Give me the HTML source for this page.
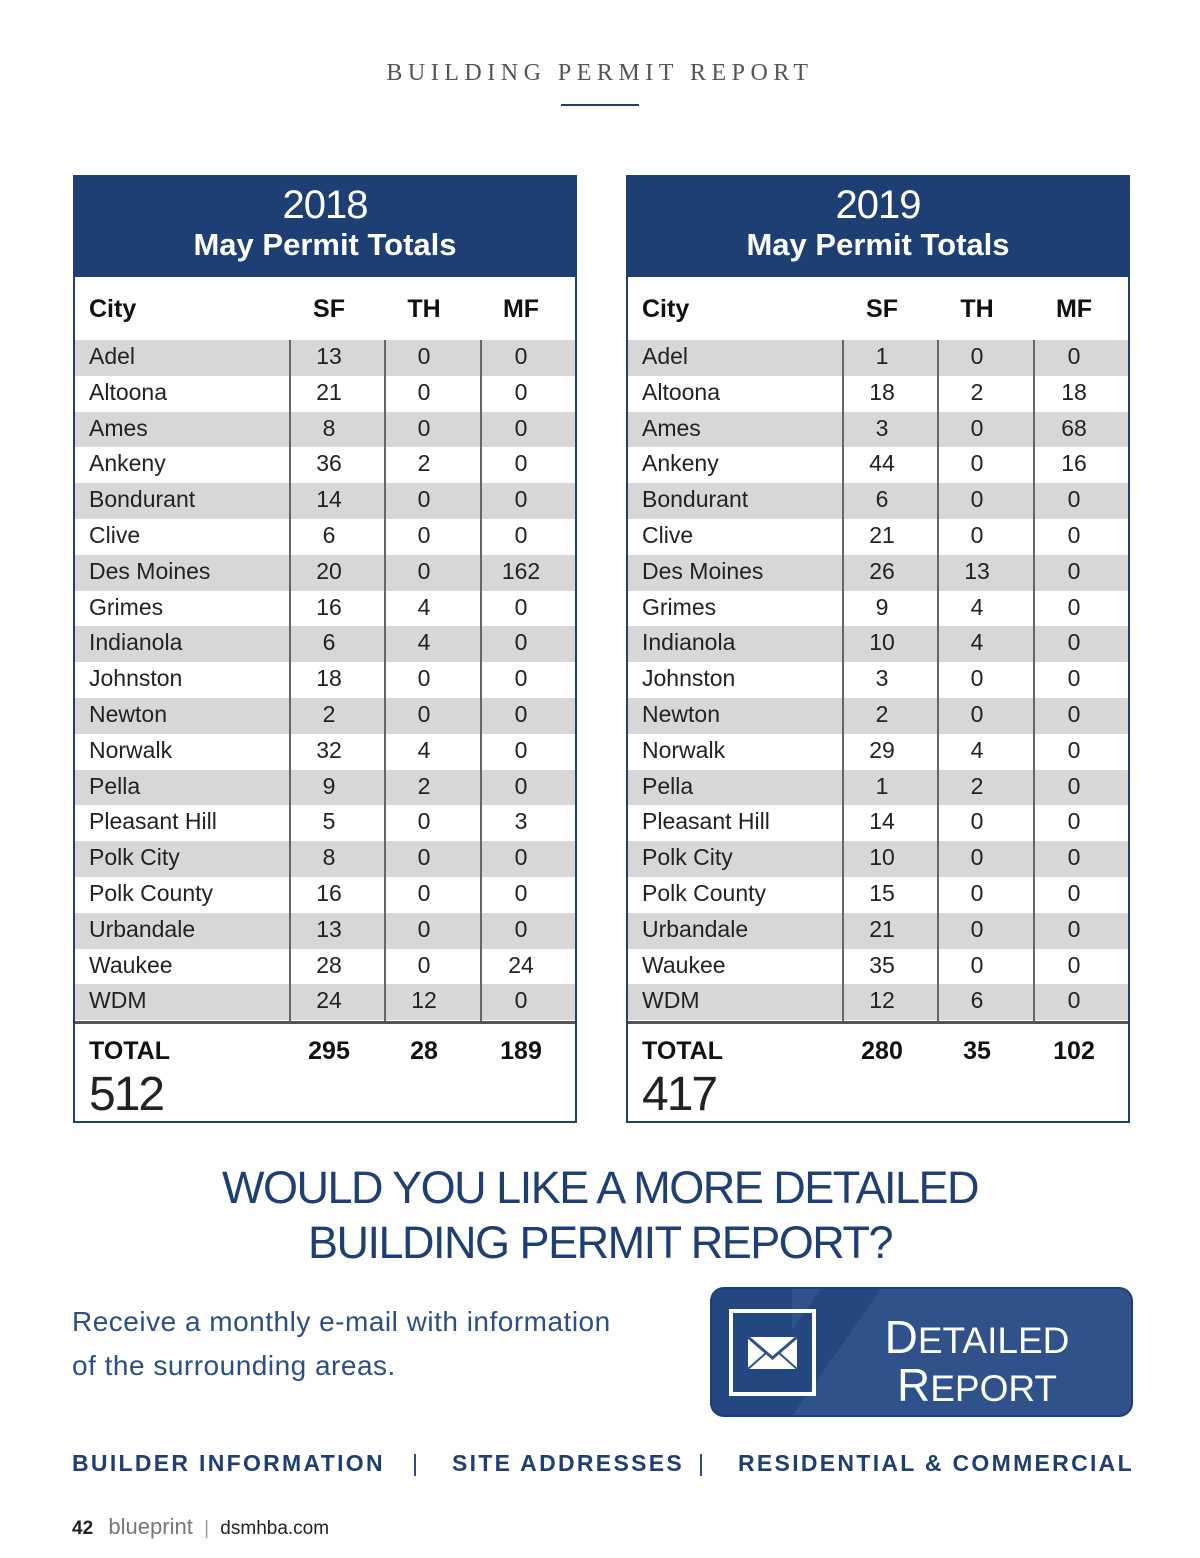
<!DOCTYPE html>
<html><head><meta charset="utf-8">
<style>
*{margin:0;padding:0;box-sizing:border-box}
body{width:1200px;height:1558px;background:#fff;position:relative;font-family:"Liberation Sans",sans-serif;overflow:hidden}
.abs{position:absolute}
.tbl{position:absolute;top:175px;width:504px;height:948px;border:2px solid #1f3f73;background:#fff}
.hd{position:absolute;left:0;top:0;width:100%;height:100px;background:#1e3f74;color:#fff;text-align:center}
.yr{position:absolute;top:6px;width:100%;font-size:40px;font-weight:300;letter-spacing:-1px}
.ttl{position:absolute;top:50px;width:100%;font-size:31px;font-weight:bold}
.ch{position:absolute;top:118px;font-size:25px;font-weight:bold;color:#111}
.row{position:absolute;left:0;width:100%;height:36px;font-size:23px;color:#222}
.row span{position:absolute;top:3px}
.vl{position:absolute;top:163px;height:683px;width:2px;background:#666}
.tot{position:absolute;top:860px;font-size:25px;font-weight:bold;color:#111}
.big{position:absolute;top:890px;left:14px;font-size:48px;font-weight:300;color:#222;letter-spacing:-2px}
</style></head><body>
<div class="abs" style="top:60px;width:100%;text-align:center;font-family:'Liberation Serif',serif;font-size:24px;letter-spacing:5.5px;color:#555">BUILDING PERMIT REPORT</div>
<div class="abs" style="left:561px;top:104px;width:78px;height:2px;background:#1e3f74"></div>
<div id="t2018" class="tbl" style="left:73px"></div>
<div id="t2019" class="tbl" style="left:626px"></div>
<div class="abs" style="top:1160px;width:100%;text-align:center;font-size:45px;color:#1e3f74;line-height:55px;letter-spacing:-1.5px">WOULD YOU LIKE A MORE DETAILED<br>BUILDING PERMIT REPORT?</div>
<div class="abs" style="left:72px;top:1300px;font-size:28px;color:#2a4f85;line-height:44px;letter-spacing:0.5px">Receive a monthly e-mail with information<br>of the surrounding areas.</div>
<div class="abs" style="left:710px;top:1287px;width:423px;height:130px;border-radius:14px;background:#2e5289;border:2px solid #1e3f74;overflow:hidden">
 <div class="abs" style="top:-10px;width:60px;height:160px;background:#244781;transform:skewX(-35deg);left:60px"></div>
 <div class="abs" style="left:0;top:0;width:80px;height:130px;background:#244781"></div>
 <div class="abs" style="left:17px;top:20px;width:87px;height:87px;border:4px solid #fff">
  <svg width="79" height="79" viewBox="0 0 79 79"><rect x="15" y="24" width="49" height="32" fill="#fff"/><polyline points="15,24 39.5,45 64,24" fill="none" stroke="#2e5289" stroke-width="3"/><line x1="15" y1="56" x2="33" y2="40" stroke="#2e5289" stroke-width="2"/><line x1="64" y1="56" x2="46" y2="40" stroke="#2e5289" stroke-width="2"/></svg>
 </div>
 <div class="abs" style="left:135px;top:26px;width:260px;text-align:center;color:#fff;font-size:46px;line-height:44px;font-weight:300">D<span style="font-size:37px">ETAILED</span><br>R<span style="font-size:37px">EPORT</span></div>
</div>
<div class="abs" style="left:72px;top:1450px;font-size:23px;font-weight:bold;color:#1e3f74;letter-spacing:2.3px;white-space:nowrap">
 <span class="abs" style="left:0">BUILDER INFORMATION</span>
 <span class="abs" style="left:340px;font-weight:normal">|</span>
 <span class="abs" style="left:380px">SITE ADDRESSES</span>
 <span class="abs" style="left:626px;font-weight:normal">|</span>
 <span class="abs" style="left:666px">RESIDENTIAL &amp; COMMERCIAL</span>
</div>
<div class="abs" style="left:72px;top:1514px;font-size:19px;color:#222;white-space:nowrap">
 <b>42</b> <span style="color:#777;font-size:22px;margin-left:10px">blueprint</span> <span style="color:#999;margin:0 6px">|</span> dsmhba.com
</div>
<script>
const cities=["Adel","Altoona","Ames","Ankeny","Bondurant","Clive","Des Moines","Grimes","Indianola","Johnston","Newton","Norwalk","Pella","Pleasant Hill","Polk City","Polk County","Urbandale","Waukee","WDM"];
const sf2018=[13,21,8,36,14,6,20,16,6,18,2,32,9,5,8,16,13,28,24];
const th2018=[0,0,0,2,0,0,0,4,4,0,0,4,2,0,0,0,0,0,12];
const mf2018=[0,0,0,0,0,0,162,0,0,0,0,0,0,3,0,0,0,24,0];
const sf2019=[1,18,3,44,6,21,26,9,10,3,2,29,1,14,10,15,21,35,12];
const th2019=[0,2,0,0,0,0,13,4,4,0,0,4,2,0,0,0,0,0,6];
const mf2019=[0,18,68,16,0,0,0,0,0,0,0,0,0,0,0,0,0,0,0];
const sum=a=>a.reduce((s,v)=>s+v,0);
function build(id,year,sf,th,mf){
 const t=document.getElementById(id);
 const cx=[254,349,446];
 let h='<div class="hd"><div class="yr">'+year+'</div><div class="ttl">May Permit Totals</div></div>';
 h+='<div class="ch" style="left:14px">City</div>';
 ["SF","TH","MF"].forEach((c,i)=>{h+='<div class="ch" style="left:'+cx[i]+'px;transform:translateX(-50%)">'+c+'</div>';});
 cities.forEach((c,r)=>{
  h+='<div class="row" style="top:'+(163+r*35.8)+'px;background:'+(r%2?'#fff':'#d9d7d6')+'"><span style="left:14px">'+c+'</span>';
  [sf[r],th[r],mf[r]].forEach((v,i)=>{h+='<span style="left:'+cx[i]+'px;transform:translateX(-50%)">'+v+'</span>';});
  h+='</div>';
 });
 [214,309,405].forEach(x=>{h+='<div class="vl" style="left:'+x+'px"></div>';});
 h+='<div class="abs" style="left:0;top:844px;width:100%;height:3px;background:#555"></div>';
 h+='<div class="tot" style="left:14px">TOTAL</div>';
 [sum(sf),sum(th),sum(mf)].forEach((v,i)=>{h+='<div class="tot" style="left:'+cx[i]+'px;transform:translateX(-50%)">'+v+'</div>';});
 h+='<div class="big">'+(sum(sf)+sum(th)+sum(mf))+'</div>';
 t.innerHTML=h;
}
build("t2018",2018,sf2018,th2018,mf2018);
build("t2019",2019,sf2019,th2019,mf2019);
</script>
</body></html>
